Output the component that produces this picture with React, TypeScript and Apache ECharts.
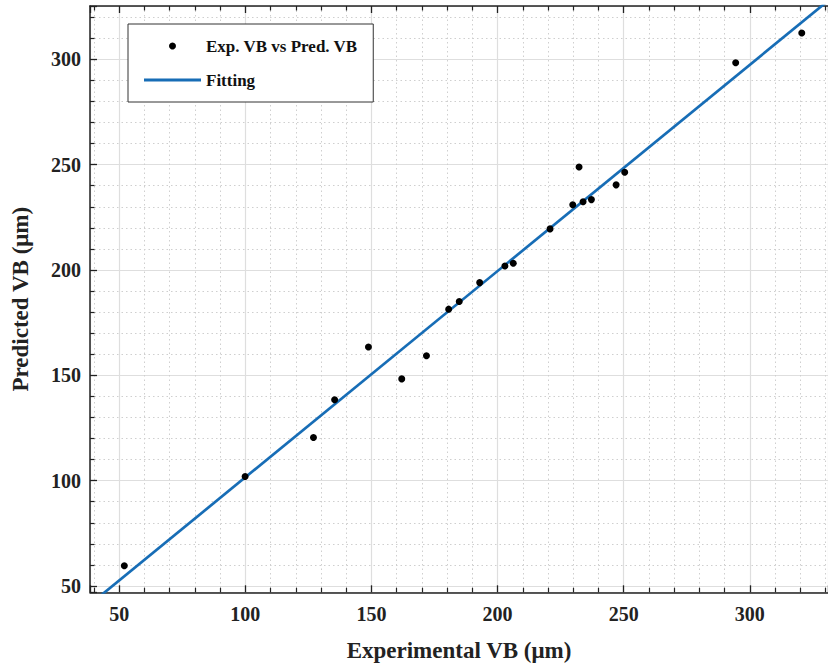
import React, { useEffect, useRef } from "react";
import * as echarts from "echarts";

const EXP_VB = [52.0, 99.9, 127.0, 135.4, 148.8, 162.0, 171.8, 180.6, 184.8, 192.9, 202.9, 206.2, 220.8, 229.8, 232.3, 233.9, 237.2, 247.0, 250.4, 294.4, 320.6];
const PRED_VB = [59.6, 102.0, 120.5, 138.4, 163.4, 148.3, 159.3, 181.4, 185.0, 194.0, 201.9, 203.2, 219.5, 231.0, 248.9, 232.4, 233.4, 240.4, 246.4, 298.4, 312.5];

const FIT_SLOPE = 0.979;
const FIT_INTERCEPT = 3.7;

const X_MIN = 38.4;
const X_MAX = 331;
const Y_MIN = 47;
const Y_MAX = 325.3;

const SCATTER_NAME = "Exp. VB vs Pred. VB";
const FIT_NAME = "Fitting";
const X_TITLE = "Experimental VB (μm)";
const Y_TITLE = "Predicted VB (μm)";

const FONT = "'Liberation Serif', 'Times New Roman', serif";
const FIT_COLOR = "#176db6";

export default function App() {
  const ref = useRef<HTMLDivElement>(null);

  useEffect(() => {
    if (!ref.current) return;
    const chart = echarts.init(ref.current, undefined, { renderer: "svg" });

    const scatterData = EXP_VB.map((x, i) => [x, PRED_VB[i]]);
    const fitData = [X_MIN, X_MAX].map((x) => [x, FIT_SLOPE * x + FIT_INTERCEPT]);

    const axisLine = { show: true, lineStyle: { color: "#222", width: 1.5 } };
    const tick = { show: true, inside: true, length: 7, lineStyle: { color: "#222", width: 1.3 } };
    const minorTick = { show: true, inside: true, length: 4.5, splitNumber: 5, lineStyle: { color: "#222", width: 1.2 } };
    const label = {
      fontFamily: FONT,
      fontWeight: "bold",
      fontSize: 20,
      color: "#222",
      showMinLabel: false,
      showMaxLabel: false,
    };
    const splitLine = { show: true, lineStyle: { color: "#dedede", width: 1.2 } };
    const minorSplitLine = { show: true, lineStyle: { color: "#cfcfcf", width: 1, type: [1.5, 3] } };
    const titleStyle = { fontFamily: FONT, fontWeight: "bold", fontSize: 23, color: "#222" };

    chart.setOption({
      animation: false,
      backgroundColor: "#fff",
      grid: { left: 90, top: 6, right: -1.4, bottom: 75.7, containLabel: false },
      legend: {
        left: 128,
        top: 24,
        orient: "vertical",
        backgroundColor: "#fff",
        borderColor: "#333",
        borderWidth: 1,
        borderRadius: 0,
        padding: [13.5, 15.5, 13.5, 14.5],
        itemGap: 17,
        itemWidth: 57,
        itemHeight: 7,
        selectedMode: false,
        textStyle: { fontFamily: FONT, fontWeight: "bold", fontSize: 17, color: "#111", lineHeight: 17 },
        data: [
          { name: SCATTER_NAME, icon: "circle", itemStyle: { color: "#000", opacity: 1 } },
          { name: FIT_NAME, itemStyle: { opacity: 0 }, lineStyle: { color: FIT_COLOR, width: 3 } },
        ],
      },
      xAxis: [
        {
          type: "value",
          min: X_MIN,
          max: X_MAX,
          position: "bottom",
          name: X_TITLE,
          nameLocation: "middle",
          nameGap: 47,
          nameTextStyle: titleStyle,
          axisLine,
          axisTick: tick,
          minorTick,
          axisLabel: { ...label, margin: 12 },
          splitLine,
          minorSplitLine,
        },
        {
          type: "value",
          min: X_MIN,
          max: X_MAX,
          position: "top",
          axisLine,
          axisTick: tick,
          minorTick,
          axisLabel: { show: false },
          splitLine: { show: false },
        },
      ],
      yAxis: [
        {
          type: "value",
          min: Y_MIN,
          max: Y_MAX,
          position: "left",
          name: Y_TITLE,
          nameLocation: "middle",
          nameGap: 58,
          nameTextStyle: titleStyle,
          axisLine,
          axisTick: tick,
          minorTick,
          axisLabel: { ...label, margin: 9 },
          splitLine,
          minorSplitLine,
        },
      ],
      series: [
        {
          name: SCATTER_NAME,
          type: "scatter",
          data: scatterData,
          symbol: "circle",
          symbolSize: 7,
          itemStyle: { color: "#000", opacity: 1 },
          z: 3,
        },
        {
          name: FIT_NAME,
          type: "line",
          data: fitData,
          showSymbol: false,
          symbol: "none",
          clip: true,
          lineStyle: { color: FIT_COLOR, width: 2.7 },
          itemStyle: { color: FIT_COLOR },
          z: 2,
        },
      ],
    });

    return () => chart.dispose();
  }, []);

  return (
    <div
      ref={ref}
      style={{ position: "fixed", left: 0, top: 0, width: 828, height: 668, background: "#fff" }}
    />
  );
}
